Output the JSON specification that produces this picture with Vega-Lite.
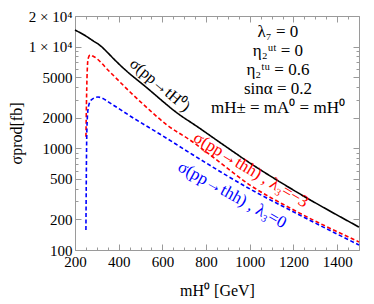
{
  "$schema": "https://vega.github.io/schema/vega-lite/v6.json",
  "width": 284,
  "height": 234,
  "autosize": "none",
  "padding": {"left": 75, "top": 16, "right": 15, "bottom": 54},
  "background": "white",
  "config": {
    "view": {"stroke": "#9a9a9a", "strokeWidth": 1},
    "font": "Liberation Serif",
    "axis": {"domain": false, "grid": false, "tickColor": "#9a9a9a", "labelColor": "#000", "titleColor": "#000", "labelFont": "Liberation Serif", "titleFont": "Liberation Serif", "labelFontSize": 15, "titleFontSize": 16, "titleFontWeight": "normal", "labelOverlap": false, "labelFlush": false}
  },
  "data": {"values": [
    {"m": 200, "s": 14550, "series": "tH"},
    {"m": 250, "s": 12700, "series": "tH"},
    {"m": 280, "s": 11500, "series": "tH"},
    {"m": 314, "s": 10300, "series": "tH"},
    {"m": 350, "s": 8700, "series": "tH"},
    {"m": 374, "s": 7700, "series": "tH"},
    {"m": 406, "s": 6590, "series": "tH"},
    {"m": 530, "s": 3920, "series": "tH"},
    {"m": 681, "s": 2120, "series": "tH"},
    {"m": 749, "s": 1693, "series": "tH"},
    {"m": 877, "s": 1090, "series": "tH"},
    {"m": 1001, "s": 716, "series": "tH"},
    {"m": 1184, "s": 407, "series": "tH"},
    {"m": 1500, "s": 168, "series": "tH"},
    {"m": 250, "s": 1300, "series": "thh3"},
    {"m": 255, "s": 5000, "series": "thh3"},
    {"m": 260, "s": 7600, "series": "thh3"},
    {"m": 269, "s": 8260, "series": "thh3"},
    {"m": 285, "s": 8000, "series": "thh3"},
    {"m": 360, "s": 5620, "series": "thh3"},
    {"m": 452, "s": 3580, "series": "thh3"},
    {"m": 530, "s": 2500, "series": "thh3"},
    {"m": 621, "s": 1693, "series": "thh3"},
    {"m": 726, "s": 1208, "series": "thh3"},
    {"m": 864, "s": 725, "series": "thh3"},
    {"m": 1001, "s": 435, "series": "thh3"},
    {"m": 1184, "s": 259, "series": "thh3"},
    {"m": 1500, "s": 120, "series": "thh3"},
    {"m": 250, "s": 157, "series": "thh0"},
    {"m": 253, "s": 1000, "series": "thh0"},
    {"m": 256, "s": 1900, "series": "thh0"},
    {"m": 262, "s": 2600, "series": "thh0"},
    {"m": 275, "s": 3000, "series": "thh0"},
    {"m": 305, "s": 3190, "series": "thh0"},
    {"m": 374, "s": 2670, "series": "thh0"},
    {"m": 452, "s": 2080, "series": "thh0"},
    {"m": 603, "s": 1320, "series": "thh0"},
    {"m": 726, "s": 900, "series": "thh0"},
    {"m": 1001, "s": 398, "series": "thh0"},
    {"m": 1184, "s": 247, "series": "thh0"},
    {"m": 1500, "s": 112, "series": "thh0"}
  ]},
  "layer": [
    {
      "mark": {"type": "line", "strokeWidth": 1.6, "interpolate": "monotone"},
      "encoding": {
        "x": {"field": "m", "type": "quantitative",
          "scale": {"domain": [200, 1500], "nice": false, "zero": false},
          "axis": {"orient": "bottom",
            "values": [200,250,300,350,400,450,500,550,600,650,700,750,800,850,900,950,1000,1050,1100,1150,1200,1250,1300,1350,1400,1450,1500],
            "labelExpr": "datum.value % 200 === 0 && datum.value < 1500 ? '' + datum.value : ''",
            "tickSize": {"condition": {"test": "datum.value % 200 === 0", "value": -6}, "value": -3},
            "labelPadding": 10, "title": "mH⁰ [GeV]", "titlePadding": 10}},
        "y": {"field": "s", "type": "quantitative",
          "scale": {"type": "log", "domain": [100, 20000], "nice": false},
          "axis": {"orient": "left",
            "values": [100,200,300,400,500,600,700,800,900,1000,2000,3000,4000,5000,6000,7000,8000,9000,10000,20000],
            "labelExpr": "datum.value === 10000 ? '1 × 10⁴' : datum.value === 20000 ? '2 × 10⁴' : (indexof([100,200,500,1000,2000,5000], datum.value) >= 0 ? '' + datum.value : '')",
            "tickSize": {"condition": {"test": "indexof([100,200,500,1000,2000,5000,10000,20000], datum.value) >= 0", "value": -6}, "value": -3},
            "labelPadding": 9, "labelBaseline": "middle", "title": "σprod[fb]", "titlePadding": 4}},
        "color": {"field": "series", "type": "nominal",
          "scale": {"domain": ["tH", "thh3", "thh0"], "range": ["#000000", "#ff0000", "#0000ff"]}, "legend": null},
        "strokeDash": {"field": "series", "type": "nominal",
          "scale": {"domain": ["tH", "thh3", "thh0"], "range": [[1, 0], [4, 2.5], [4, 2.5]]}, "legend": null}
      }
    },
    {
      "mark": {"type": "line", "opacity": 0},
      "encoding": {
        "x": {"field": "m", "type": "quantitative",
          "axis": {"orient": "top", "labels": false, "title": null,
            "values": [200,250,300,350,400,450,500,550,600,650,700,750,800,850,900,950,1000,1050,1100,1150,1200,1250,1300,1350,1400,1450,1500],
            "tickSize": {"condition": {"test": "datum.value % 200 === 0", "value": -6}, "value": -3}}},
        "y": {"field": "s", "type": "quantitative",
          "axis": {"orient": "right", "labels": false, "title": null,
            "values": [100,200,300,400,500,600,700,800,900,1000,2000,3000,4000,5000,6000,7000,8000,9000,10000,20000],
            "tickSize": {"condition": {"test": "indexof([100,200,500,1000,2000,5000,10000,20000], datum.value) >= 0", "value": -6}, "value": -3}}},
        "detail": {"field": "series", "type": "nominal"}
      }
    },
    {
      "data": {"values": [{}]},
      "mark": {"type": "text", "text": "σ(pp→tH⁰)", "angle": 40, "fontSize": 16, "align": "center", "baseline": "middle", "color": "#000"},
      "encoding": {"x": {"datum": 589, "type": "quantitative", "axis": null}, "y": {"datum": 4190, "type": "quantitative", "axis": null}}
    },
    {
      "data": {"values": [{}]},
      "mark": {"type": "text", "text": "σ(pp→thh) , λ₃=−3", "angle": 31, "fontSize": 17, "align": "center", "baseline": "middle", "color": "#ff0000"},
      "encoding": {"x": {"datum": 1005, "type": "quantitative", "axis": null}, "y": {"datum": 612, "type": "quantitative", "axis": null}}
    },
    {
      "data": {"values": [{}]},
      "mark": {"type": "text", "text": "σ(pp→thh) , λ₃=0", "angle": 29, "fontSize": 17, "align": "center", "baseline": "middle", "color": "#0000ff"},
      "encoding": {"x": {"datum": 919, "type": "quantitative", "axis": null}, "y": {"datum": 348, "type": "quantitative", "axis": null}}
    },
    {
      "data": {"values": [{}]},
      "mark": {"type": "text", "text": ["λ₇ = 0", "η₂ᵘᵗ = 0", "η₂ᵗᵘ = 0.6", "sinα = 0.2", "mH± = mA⁰ = mH⁰"], "lineHeight": 19, "fontSize": 17, "align": "center", "baseline": "top", "color": "#000"},
      "encoding": {"x": {"datum": 1129, "type": "quantitative", "axis": null}, "y": {"datum": 16500, "type": "quantitative", "axis": null}}
    }
  ],
  "resolve": {"axis": {"x": "independent", "y": "independent"}}
}
